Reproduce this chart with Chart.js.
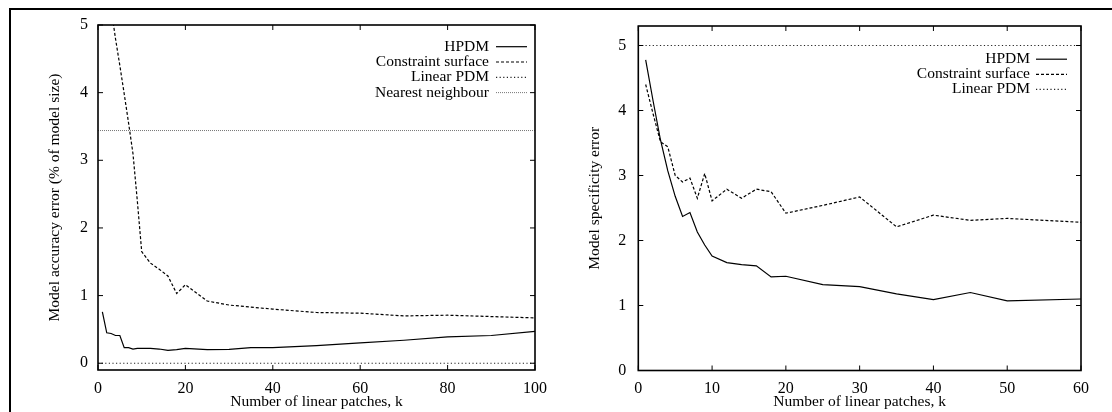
<!DOCTYPE html>
<html><head><meta charset="utf-8">
<script src="https://cdn.jsdelivr.net/npm/chart.js@4.4.0/dist/chart.umd.min.js"></script>
<style>
html,body{margin:0;padding:0;background:#fff;}
#wrap{position:relative;width:1112px;height:412px;overflow:hidden;background:#fff;}
canvas{position:absolute;top:0;}
#c1{left:0}
#c2{left:556px}
#frame{position:absolute;left:9px;top:8px;right:-5px;bottom:-5px;border-top:2px solid #000;border-left:2px solid #000;pointer-events:none}
</style></head><body>
<div id="wrap"><canvas id="c1" width="556" height="412"></canvas><canvas id="c2" width="556" height="412"></canvas><div id="frame"></div></div>
<script>
// ---------- Left chart: model accuracy ----------
const accK          = [1,2,3,4,5,6,7,8,9,10,12,14,16,18,20,25,30,35,40,50,60,70,80,90,100];
const accHPDM       = [0.76,0.45,0.44,0.41,0.41,0.23,0.23,0.21,0.22,0.22,0.22,0.21,0.19,0.20,0.22,0.20,0.205,0.23,0.23,0.26,0.30,0.34,0.39,0.41,0.47];
const accConsK      = [3,4,5,6,7,8,9,10,12,14,16,18,20,25,30,35,40,50,60,70,80,90,100];
const accConstraint = [5.25,4.8,4.4,3.98,3.55,3.1,2.4,1.65,1.48,1.39,1.29,1.03,1.16,0.92,0.86,0.83,0.80,0.75,0.74,0.70,0.71,0.69,0.67];
const accLineK      = [0,100];
const accLinearPDM  = [0,0];
const accNearest    = [3.44,3.44];
const accXTicks     = [0,20,40,60,80,100];
const accYTicks     = [0,1,2,3,4,5];

// ---------- Right chart: model specificity ----------
const specK          = [1,2,3,4,5,6,7,8,9,10,12,14,16,18,20,25,30,35,40,45,50,60];
const specHPDM       = [4.78,4.15,3.55,3.07,2.68,2.37,2.43,2.13,1.93,1.76,1.66,1.63,1.61,1.44,1.45,1.32,1.29,1.18,1.09,1.20,1.07,1.10];
const specConstraint = [4.40,3.95,3.52,3.44,3.00,2.90,2.96,2.65,3.03,2.61,2.79,2.65,2.79,2.75,2.42,2.54,2.67,2.21,2.39,2.31,2.34,2.28];
const specLineK      = [0,60];
const specLinearPDM  = [5.0,5.0];
const specXTicks     = [0,10,20,30,40,50,60];
const specYTicks     = [0,1,2,3,4,5];

const pts = (xs, ys) => xs.map((x, i) => ({x, y: ys[i]}));

const FAMILY = '"Liberation Serif", "Times New Roman", serif';
Chart.defaults.font.family = FAMILY;
Chart.defaults.font.size = 16;
Chart.defaults.color = '#000';

const STYLE = {
  hpdm:    {borderColor:'#000', borderWidth:1.2, borderDash:[]},
  cons:    {borderColor:'#000', borderWidth:1.2, borderDash:[3,2]},
  linear:  {borderColor:'#222', borderWidth:1.2, borderDash:[1.2,2.4]},
  nearest: {borderColor:'#777', borderWidth:1,   borderDash:[1,1]}
};

const gpFrame = {
  id: 'gpFrame',
  afterDatasetsDraw(chart) {
    const {ctx, chartArea: a, scales} = chart;
    const L = 5;
    ctx.save();
    ctx.setLineDash([]);
    ctx.strokeStyle = '#000';
    ctx.lineWidth = 1;
    ctx.beginPath();
    scales.x.ticks.forEach(t => {
      const p = scales.x.getPixelForValue(t.value);
      ctx.moveTo(p, a.bottom); ctx.lineTo(p, a.bottom - L);
      ctx.moveTo(p, a.top); ctx.lineTo(p, a.top + L);
    });
    scales.y.ticks.forEach(t => {
      const p = scales.y.getPixelForValue(t.value);
      ctx.moveTo(a.left, p); ctx.lineTo(a.left + L, p);
      ctx.moveTo(a.right, p); ctx.lineTo(a.right - L, p);
    });
    ctx.stroke();
    ctx.lineWidth = 1.6;
    ctx.strokeRect(a.left, a.top, a.right - a.left, a.bottom - a.top);
    ctx.restore();
  }
};

const gpLegend = {
  id: 'gpLegend',
  afterDatasetsDraw(chart, args, o) {
    const ctx = chart.ctx;
    ctx.save();
    ctx.font = '15.5px ' + FAMILY;
    ctx.textAlign = 'right';
    ctx.textBaseline = 'middle';
    chart.data.datasets.forEach((ds, i) => {
      const y = o.y + i * o.row;
      ctx.fillStyle = '#000';
      ctx.fillText(ds.label, o.textX, y);
      ctx.beginPath();
      ctx.setLineDash(ds.borderDash || []);
      ctx.strokeStyle = ds.borderColor;
      ctx.lineWidth = ds.borderWidth;
      ctx.moveTo(o.x0, y); ctx.lineTo(o.x1, y);
      ctx.stroke();
    });
    ctx.restore();
  }
};

function ds(label, data, st) {
  return Object.assign({label, data, pointRadius:0, tension:0, fill:false}, st);
}

function makeChart(id, cfg) {
  return new Chart(document.getElementById(id), {
    type: 'line',
    data: {datasets: cfg.datasets},
    plugins: [gpFrame, gpLegend],
    options: {
      responsive: false,
      animation: false,
      devicePixelRatio: 1,
      layout: {padding: cfg.padding},
      plugins: {legend:{display:false}, tooltip:{enabled:false}, gpLegend: cfg.legend},
      scales: {
        x: {
          type: 'linear', min: cfg.xMin, max: cfg.xMax,
          afterBuildTicks: s => { s.ticks = cfg.xTicks.map(v => ({value: v})); },
          grid: {display:false, drawTicks:false},
          border: {display:false},
          ticks: {padding: cfg.xPad, maxRotation:0, autoSkip:false, color:'#000', font:{size:16}},
          title: {display:true, text:'Number of linear patches, k', color:'#000', font:{size:15.5}, padding:{top:0, bottom:cfg.xTitlePad}},
          afterFit: s => { s.height = cfg.xHeight; }
        },
        y: {
          type: 'linear', min: cfg.yMin, max: cfg.yMax,
          afterBuildTicks: s => { s.ticks = cfg.yTicks.map(v => ({value: v})); },
          grid: {display:false, drawTicks:false},
          border: {display:false},
          ticks: {padding: cfg.yPad, color:'#000', font:{size:16}},
          title: {display:true, text: cfg.yTitle, color:'#000', font:{size:15.5}, padding:{top:cfg.yTitlePad, bottom:0}},
          afterFit: s => { s.width = cfg.yWidth; }
        }
      }
    }
  });
}

makeChart('c1', {
  datasets: [
    ds('HPDM', pts(accK, accHPDM), STYLE.hpdm),
    ds('Constraint surface', pts(accConsK, accConstraint), STYLE.cons),
    ds('Linear PDM', pts(accLineK, accLinearPDM), STYLE.linear),
    ds('Nearest neighbour', pts(accLineK, accNearest), STYLE.nearest)
  ],
  padding: {left:46, top:25, right:13, bottom:0},
  xMin:0, xMax:100, yMin:-0.1, yMax:5,
  xTicks: accXTicks, yTicks: accYTicks,
  xPad: 9, yPad: 10, xHeight: 42, yWidth: 52, xTitlePad: 1, yTitlePad: 0,
  yTitle: 'Model accuracy error (% of model size)',
  legend: {textX:489, x0:496, x1:527, y:46.7, row:15.3}
});

makeChart('c2', {
  datasets: [
    ds('HPDM', pts(specK, specHPDM), STYLE.hpdm),
    ds('Constraint surface', pts(specK, specConstraint), STYLE.cons),
    ds('Linear PDM', pts(specLineK, specLinearPDM), STYLE.linear)
  ],
  padding: {left:30, top:26, right:31, bottom:0},
  xMin:0, xMax:60, yMin:0, yMax:5.3,
  xTicks: specXTicks, yTicks: specYTicks,
  xPad: 9, yPad: 12, xHeight: 41.5, yWidth: 52.3, xTitlePad: 1, yTitlePad: 0,
  yTitle: 'Model specificity error',
  legend: {textX:474, x0:480, x1:511, y:59.2, row:15.1}
});
</script>
</body></html>
